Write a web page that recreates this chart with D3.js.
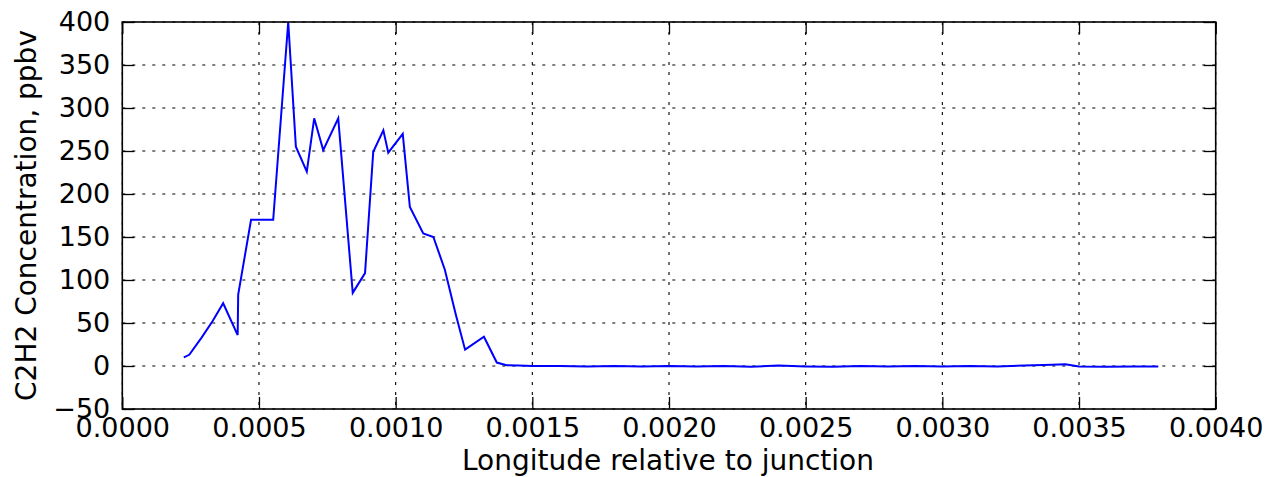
<!DOCTYPE html>
<html>
<head>
<meta charset="utf-8">
<script src="https://cdn.jsdelivr.net/npm/d3@7/dist/d3.min.js"></script>
<style>
  html, body { margin: 0; padding: 0; background: #fff; }
  svg { display: block; }
  text { font-family: "DejaVu Sans", sans-serif; fill: #000; }
</style>
</head>
<body>
<script>
// C2H2 concentration along a transect, by longitude offset from the junction
const longitude = [
  0.000225, 0.000245, 0.00029, 0.00033, 0.000369, 0.000422, 0.000424, 0.000471,
  0.000552, 0.000607, 0.000635, 0.000675, 0.000702, 0.000735, 0.00079, 0.000843,
  0.000888, 0.000918, 0.000955, 0.000973, 0.001026, 0.001052, 0.001101, 0.001138,
  0.00118, 0.00122, 0.001254, 0.001323, 0.00137, 0.001406, 0.00145, 0.0015,
  0.0016, 0.0017, 0.0018, 0.0019, 0.0020, 0.0021, 0.0022, 0.0023,
  0.0024, 0.0025, 0.0026, 0.0027, 0.0028, 0.0029, 0.0030, 0.0031,
  0.0032, 0.0033, 0.0034, 0.00345, 0.0035, 0.0036, 0.0037, 0.00379
];
const concentration = [
  10, 13, 33, 52, 73, 36, 83, 170,
  170, 400, 255, 226, 288, 251, 288, 85,
  108, 249, 274, 248, 270, 185, 154, 150,
  112, 60, 19, 34, 4, 1, 0.5, 0,
  0, -0.5, 0, -0.5, 0, -0.5, 0, -1,
  0.5, -0.5, -1, 0, -0.5, 0, -0.5, 0,
  -0.5, 0.5, 1.5, 2, -0.5, -1, -0.5, -0.5
];

const xTicks = [0, 0.0005, 0.001, 0.0015, 0.002, 0.0025, 0.003, 0.0035, 0.004];
const xTickLabels = ["0.0000", "0.0005", "0.0010", "0.0015", "0.0020", "0.0025", "0.0030", "0.0035", "0.0040"];
const yTicks = [-50, 0, 50, 100, 150, 200, 250, 300, 350, 400];
const yTickLabels = ["\u221250", "0", "50", "100", "150", "200", "250", "300", "350", "400"];

const xLabel = "Longitude relative to junction";
const yLabel = "C2H2 Concentration, ppbv";

const W = 1265, H = 477;
const plot = { left: 122.3, right: 1215.7, top: 22, bottom: 409 };

const svg = d3.select("body").append("svg")
  .attr("width", W).attr("height", H);
svg.append("rect").attr("width", W).attr("height", H).attr("fill", "#fff");

const x = d3.scaleLinear().domain([0, 0.004]).range([plot.left, plot.right]);
const y = d3.scaleLinear().domain([-50, 400]).range([plot.bottom, plot.top]);

// dotted grid
const grid = svg.append("g")
  .attr("stroke", "#000").attr("stroke-width", 1.1)
  .attr("stroke-dasharray", "3,7");
grid.selectAll("line.gx").data(xTicks).join("line")
  .attr("x1", d => x(d)).attr("x2", d => x(d))
  .attr("y1", plot.top).attr("y2", plot.bottom);
grid.selectAll("line.gy").data(yTicks).join("line")
  .attr("x1", plot.left).attr("x2", plot.right)
  .attr("y1", d => y(d)).attr("y2", d => y(d));

// data line, clipped to the axes box
svg.append("clipPath").attr("id", "clip")
  .append("rect").attr("x", plot.left).attr("y", plot.top - 1)
  .attr("width", plot.right - plot.left).attr("height", plot.bottom - plot.top + 1);

const pts = longitude.map((v, i) => [v, concentration[i]]);
svg.append("path")
  .datum(pts)
  .attr("clip-path", "url(#clip)")
  .attr("fill", "none")
  .attr("stroke", "#0000ff")
  .attr("stroke-width", 2)
  .attr("stroke-linejoin", "miter")
  .attr("d", d3.line().x(d => x(d[0])).y(d => y(d[1])));

// axes: inward ticks on all four sides, labels on bottom and left
const tickLen = 12;
const fmtX = (d, i) => xTickLabels[i];
const fmtY = (d, i) => yTickLabels[i];

const axBottom = svg.append("g").attr("transform", `translate(0,${plot.bottom})`)
  .call(d3.axisBottom(x).tickValues(xTicks).tickFormat(fmtX).tickSizeInner(-tickLen).tickSizeOuter(0).tickPadding(9));
const axTop = svg.append("g").attr("transform", `translate(0,${plot.top})`)
  .call(d3.axisTop(x).tickValues(xTicks).tickFormat("").tickSizeInner(-tickLen).tickSizeOuter(0));
const axLeft = svg.append("g").attr("transform", `translate(${plot.left},0)`)
  .call(d3.axisLeft(y).tickValues(yTicks).tickFormat(fmtY).tickSizeInner(-tickLen).tickSizeOuter(0).tickPadding(12));
const axRight = svg.append("g").attr("transform", `translate(${plot.right},0)`)
  .call(d3.axisRight(y).tickValues(yTicks).tickFormat("").tickSizeInner(-tickLen).tickSizeOuter(0));

[axBottom, axTop, axLeft, axRight].forEach(g => {
  g.select(".domain").remove();
  g.selectAll(".tick line").attr("stroke", "#000").attr("stroke-width", 1.3);
  g.selectAll("text").style("font-family", "'DejaVu Sans', sans-serif")
    .attr("font-size", 27).attr("fill", "#000");
});

// frame
svg.append("rect")
  .attr("x", plot.left).attr("y", plot.top)
  .attr("width", plot.right - plot.left).attr("height", plot.bottom - plot.top)
  .attr("fill", "none").attr("stroke", "#000").attr("stroke-width", 1.6);

// axis titles
svg.append("text")
  .attr("x", 668).attr("y", 470)
  .attr("text-anchor", "middle")
  .attr("font-size", 28)
  .text(xLabel);

svg.append("text")
  .attr("transform", `translate(36,${(plot.top + plot.bottom) / 2}) rotate(-90)`)
  .attr("text-anchor", "middle")
  .attr("font-size", 28)
  .text(yLabel);
</script>
</body>
</html>
